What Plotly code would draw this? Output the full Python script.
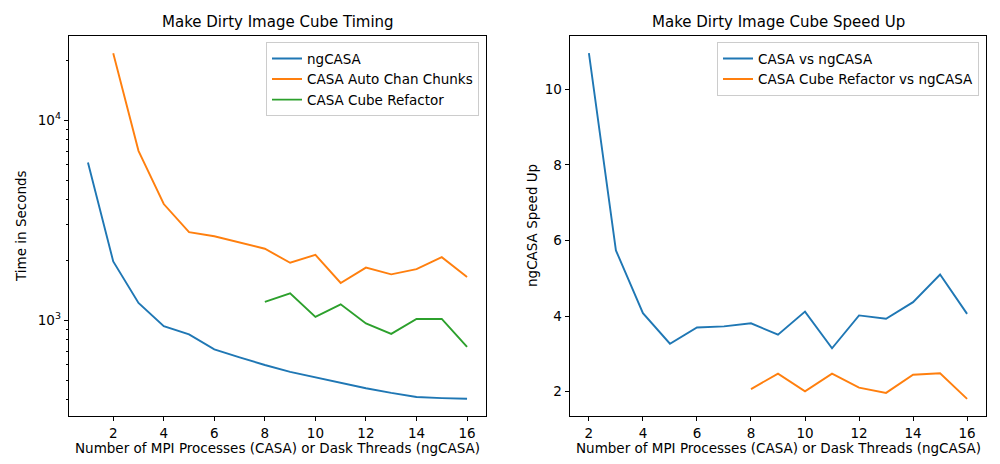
import plotly.graph_objects as go

# ---- data ----
threads_ng = list(range(1, 17))
ngcasa_time = [6150, 1968, 1220, 933, 849, 715, 652, 597, 552, 518, 489, 457, 433, 413, 408, 405]

threads_auto = list(range(2, 17))
casa_auto_time = [21600, 7030, 3810, 2755, 2630, 2440, 2277, 1938, 2123, 1535, 1832, 1695, 1802, 2067, 1644]

threads_refactor = list(range(8, 17))
casa_refactor_time = [1234, 1363, 1039, 1201, 963, 855, 1015, 1015, 736]

speed_x1 = list(range(2, 17))
speed_casa = [10.96, 5.74, 4.08, 3.27, 3.70, 3.73, 3.81, 3.51, 4.12, 3.15, 4.02, 3.93, 4.37, 5.10, 4.06]

speed_x2 = list(range(8, 17))
speed_refactor = [2.07, 2.48, 2.01, 2.48, 2.11, 1.97, 2.45, 2.49, 1.81]

x_ticks = [2, 4, 6, 8, 10, 12, 14, 16]
left_major = [1000, 10000]
left_major_text = ["10<sup>3</sup>", "10<sup>4</sup>"]
left_minor = [400, 500, 600, 700, 800, 900, 2000, 3000, 4000, 5000, 6000, 7000, 8000, 9000, 20000]
right_ticks = [2, 4, 6, 8, 10]

C_BLUE, C_ORANGE, C_GREEN = "#1f77b4", "#ff7f0e", "#2ca02c"
FONT = "DejaVu Sans"
FS = 13.5
LW = 1.9

fig = go.Figure()
fig.add_trace(go.Scatter(x=threads_ng, y=ngcasa_time, mode="lines", name="ngCASA",
                         line=dict(color=C_BLUE, width=LW), xaxis="x", yaxis="y", legend="legend"))
fig.add_trace(go.Scatter(x=threads_auto, y=casa_auto_time, mode="lines", name="CASA Auto Chan Chunks",
                         line=dict(color=C_ORANGE, width=LW), xaxis="x", yaxis="y", legend="legend"))
fig.add_trace(go.Scatter(x=threads_refactor, y=casa_refactor_time, mode="lines", name="CASA Cube Refactor",
                         line=dict(color=C_GREEN, width=LW), xaxis="x", yaxis="y", legend="legend"))
fig.add_trace(go.Scatter(x=speed_x1, y=speed_casa, mode="lines", name="CASA vs ngCASA",
                         line=dict(color=C_BLUE, width=LW), xaxis="x2", yaxis="y2", legend="legend2"))
fig.add_trace(go.Scatter(x=speed_x2, y=speed_refactor, mode="lines", name="CASA Cube Refactor vs ngCASA",
                         line=dict(color=C_ORANGE, width=LW), xaxis="x2", yaxis="y2", legend="legend2"))

axis_common = dict(showline=True, linecolor="black", linewidth=1, mirror=True,
                   ticks="outside", ticklen=4.4, tickwidth=1, tickcolor="black",
                   showgrid=False, zeroline=False, automargin=False,
                   tickfont=dict(family=FONT, size=FS, color="black"))

xlabel = "Number of MPI Processes (CASA) or Dask Threads (ngCASA)"


def label(text, x, y, angle=0):
    return dict(text=text, x=x, y=y, xref="paper", yref="paper", showarrow=False,
                xanchor="center", yanchor="middle", textangle=angle,
                font=dict(family=FONT, size=FS, color="black"))


fig.update_layout(
    width=1000, height=464,
    margin=dict(l=0, r=0, t=0, b=0),
    paper_bgcolor="white", plot_bgcolor="white",
    font=dict(family=FONT, size=FS, color="black"),
    xaxis=dict(domain=[0.069, 0.486], range=[0.25, 16.75], tickmode="array", tickvals=x_ticks,
               anchor="y", **axis_common),
    yaxis=dict(domain=[0.1034, 0.9224], type="log", range=[2.521, 4.421],
               tickmode="array", tickvals=left_major, ticktext=left_major_text,
               minor=dict(tickmode="array", tickvals=left_minor, ticks="outside", ticklen=2.5,
                          tickwidth=0.8, tickcolor="black", showgrid=False),
               anchor="x", **axis_common),
    xaxis2=dict(domain=[0.570, 0.986], range=[1.3, 16.7], tickmode="array", tickvals=x_ticks,
                anchor="y2", **axis_common),
    yaxis2=dict(domain=[0.1034, 0.9224], range=[1.3575, 11.4125],
                tickmode="array", tickvals=right_ticks,
                anchor="x2", **axis_common),
    legend=dict(x=0.479, y=0.909, xanchor="right", yanchor="top",
                bgcolor="rgba(255,255,255,0.8)", bordercolor="#cccccc", borderwidth=1,
                font=dict(family=FONT, size=FS, color="black"), tracegroupgap=0),
    legend2=dict(x=0.979, y=0.909, xanchor="right", yanchor="top",
                 bgcolor="rgba(255,255,255,0.8)", bordercolor="#cccccc", borderwidth=1,
                 font=dict(family=FONT, size=FS, color="black"), tracegroupgap=0),
    showlegend=True,
    annotations=[
        dict(text="Make Dirty Image Cube Timing", x=0.2775, y=1 - 22 / 464, xref="paper", yref="paper",
             showarrow=False, xanchor="center", yanchor="middle",
             font=dict(family=FONT, size=15, color="black")),
        dict(text="Make Dirty Image Cube Speed Up", x=0.778, y=1 - 22 / 464, xref="paper", yref="paper",
             showarrow=False, xanchor="center", yanchor="middle",
             font=dict(family=FONT, size=15, color="black")),
        label(xlabel, 0.2775, 1 - 448 / 464),
        label(xlabel, 0.778, 1 - 448 / 464),
        label("Time in Seconds", 0.021, 1 - 226 / 464, -90),
        label("ngCASA Speed Up", 0.532, 1 - 226 / 464, -90),
    ],
)

fig.write_html("out.html", config={"displayModeBar": False},
               post_script="document.body.style.margin='0px';")
